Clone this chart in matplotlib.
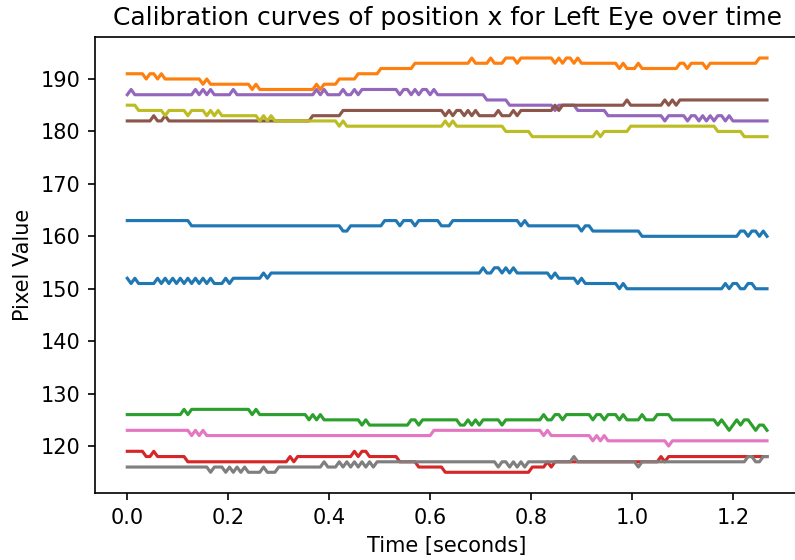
import numpy as np
import matplotlib
matplotlib.use("Agg")
import matplotlib.pyplot as plt

# sample grid of the recording
N_SAMPLES = 170
SAMPLE_DT = 0.0075

# each curve: (first sample, pixel value) where the value changes
blue_top = [(0, 163), (17, 162), (57, 161), (59, 162), (68, 163), (72, 162), (73, 163), (76, 162),
            (77, 163), (83, 162), (86, 163), (104, 162), (105, 163), (106, 162), (120, 161), (121, 162),
            (123, 161), (136, 160), (162, 161), (164, 160), (165, 161), (167, 160), (168, 161), (169, 160)]
orange = [(0, 191), (5, 190), (6, 191), (8, 190), (9, 191), (10, 190), (20, 189), (21, 190), (22, 189),
          (33, 188), (34, 189), (35, 188), (50, 189), (51, 188), (52, 189), (56, 190), (61, 191), (67, 192),
          (76, 193), (91, 194), (92, 193), (96, 194), (97, 193), (100, 194), (103, 193), (104, 194),
          (113, 193), (114, 194), (115, 193), (116, 194), (118, 193), (119, 194), (120, 193), (130, 192),
          (131, 193), (132, 192), (135, 193), (136, 192), (146, 193), (148, 192), (149, 193), (153, 192),
          (154, 193), (167, 194)]
green = [(0, 126), (15, 127), (16, 126), (17, 127), (33, 126), (34, 127), (35, 126), (48, 125), (49, 126),
         (50, 125), (51, 126), (52, 125), (62, 124), (63, 125), (64, 124), (75, 125), (77, 124), (78, 125),
         (88, 124), (90, 125), (91, 124), (92, 125), (93, 124), (94, 125), (99, 124), (100, 125), (110, 126),
         (111, 125), (113, 126), (115, 125), (116, 126), (123, 125), (124, 126), (126, 125), (127, 126),
         (130, 125), (131, 126), (132, 125), (136, 126), (137, 125), (140, 126), (144, 125), (156, 124),
         (157, 125), (158, 124), (159, 123), (160, 124), (161, 125), (162, 124), (163, 125), (165, 124),
         (166, 123), (167, 124), (169, 123)]
red = [(0, 119), (5, 118), (7, 119), (8, 118), (16, 117), (43, 118), (44, 117), (45, 118), (60, 119),
       (61, 118), (62, 119), (64, 118), (72, 117), (77, 116), (84, 115), (107, 116), (111, 117), (112, 116),
       (113, 117), (141, 118), (142, 117), (143, 118)]
purple = [(0, 187), (1, 188), (2, 187), (18, 188), (19, 187), (20, 188), (21, 187), (22, 188), (23, 187),
          (28, 188), (29, 187), (50, 188), (51, 187), (52, 188), (53, 187), (57, 188), (58, 187), (60, 188),
          (61, 187), (62, 188), (72, 187), (73, 188), (75, 187), (76, 188), (77, 187), (78, 188), (80, 187),
          (81, 188), (82, 187), (95, 186), (101, 185), (113, 184), (114, 185), (119, 184), (127, 183),
          (142, 182), (143, 183), (148, 182), (149, 183), (151, 182), (152, 183), (153, 182), (154, 183),
          (155, 182), (156, 183), (158, 182), (159, 183), (160, 182)]
brown = [(0, 182), (7, 183), (8, 182), (10, 183), (11, 182), (49, 183), (57, 184), (84, 183), (85, 184),
         (86, 183), (87, 184), (89, 183), (90, 184), (91, 183), (92, 184), (93, 183), (98, 184), (99, 183),
         (102, 184), (103, 183), (104, 184), (113, 185), (114, 184), (115, 185), (132, 186), (133, 185),
         (142, 186), (143, 185), (144, 186), (145, 185), (146, 186)]
pink = [(0, 123), (17, 122), (18, 123), (19, 122), (20, 123), (21, 122), (81, 123), (110, 122), (111, 123),
        (112, 122), (123, 121), (124, 122), (125, 121), (126, 122), (127, 121), (143, 120), (144, 121)]
gray = [(0, 116), (22, 115), (23, 116), (26, 115), (27, 116), (28, 115), (29, 116), (30, 115), (31, 116),
        (32, 115), (36, 116), (37, 115), (40, 116), (52, 117), (53, 116), (56, 117), (57, 116), (58, 117),
        (59, 116), (60, 117), (61, 116), (62, 117), (63, 116), (64, 117), (65, 116), (66, 117), (98, 116),
        (99, 117), (101, 116), (102, 117), (103, 116), (104, 117), (105, 116), (106, 117), (118, 118),
        (119, 117), (135, 116), (136, 117), (164, 118), (166, 117), (168, 118)]
olive = [(0, 185), (3, 184), (10, 183), (11, 184), (16, 183), (17, 184), (21, 183), (22, 184), (23, 183),
         (24, 184), (25, 183), (35, 182), (36, 183), (37, 182), (38, 183), (39, 182), (56, 181), (57, 182),
         (58, 181), (84, 182), (85, 181), (86, 182), (87, 181), (100, 180), (107, 179), (124, 180),
         (125, 179), (126, 180), (133, 181), (156, 180), (163, 179)]
blue_low = [(0, 152), (1, 151), (2, 152), (3, 151), (8, 152), (9, 151), (10, 152), (11, 151), (12, 152),
            (13, 151), (14, 152), (15, 151), (16, 152), (17, 151), (18, 152), (19, 151), (20, 152), (21, 151),
            (22, 152), (23, 151), (26, 152), (27, 151), (28, 152), (36, 153), (37, 152), (38, 153), (94, 154),
            (95, 153), (97, 154), (99, 153), (100, 154), (101, 153), (102, 154), (103, 153), (112, 152),
            (113, 153), (114, 152), (119, 151), (120, 152), (121, 151), (130, 150), (131, 151), (132, 150),
            (158, 151), (159, 150), (160, 151), (162, 150), (164, 151), (166, 150)]

curves = [blue_top, orange, green, red, purple, brown, pink, gray, olive, blue_low]
colors = ['C0', 'C1', 'C2', 'C3', 'C4', 'C5', 'C6', 'C7', 'C8', 'C0']


def expand(changes):
    vals = np.zeros(N_SAMPLES)
    for k, (start, v) in enumerate(changes):
        end = changes[k + 1][0] if k + 1 < len(changes) else N_SAMPLES
        vals[start:end] = v
    return vals


t = np.arange(N_SAMPLES) * SAMPLE_DT

DPI = 150
fig = plt.figure(figsize=(795 / DPI, 560 / DPI), dpi=DPI)
ax = fig.add_axes([95.3 / 795, 67 / 560, 703.7 / 795, 455.7 / 560])
for c, col in zip(curves, colors):
    ax.plot(t, expand(c), color=col)

ax.set_title("Calibration curves of position x for Left Eye over time")
ax.set_xlabel("Time [seconds]")
ax.set_ylabel("Pixel Value")

fig.savefig("out.png", dpi=DPI)
